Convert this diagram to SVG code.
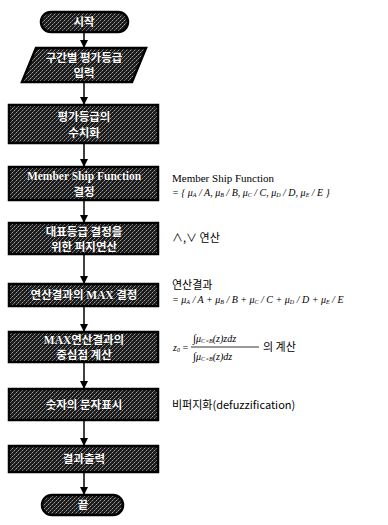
<svg xmlns="http://www.w3.org/2000/svg" width="388" height="525" viewBox="0 0 388 525">
<defs>
<pattern id="dt" width="4" height="4" patternUnits="userSpaceOnUse">
<rect width="4" height="4" fill="#1a1a1a"/>
<rect x="0" y="0" width="1" height="1" fill="#a0a0a0"/>
<rect x="2" y="2" width="1" height="1" fill="#a0a0a0"/>
<rect x="1" y="3" width="1" height="1" fill="#666"/>
<rect x="3" y="1" width="1" height="1" fill="#666"/>
</pattern>
<marker id="ah" markerWidth="8" markerHeight="8" refX="8" refY="4" orient="auto" markerUnits="userSpaceOnUse">
<path d="M0,0 L8,4 L0,8 z" fill="#000"/>
</marker>
<style>
.box{fill:url(#dt);stroke:#000;stroke-width:2.5}
.bt{fill:#fff;font-family:"Noto Sans CJK KR","Liberation Sans",sans-serif;font-weight:bold;font-size:11.5px;text-anchor:middle;stroke:#000;stroke-width:0.6;paint-order:stroke}
.bs{font-family:"Liberation Serif","Noto Sans CJK KR",serif}
.cn{stroke:#000;stroke-width:1.5;fill:none;marker-end:url(#ah)}
.rt{font-family:"Liberation Serif","Noto Sans CJK KR",serif;font-size:11px;fill:#000}
.rk{font-family:"Noto Sans CJK KR","Liberation Sans",sans-serif;font-size:11px;fill:#000}
.fm{font-family:"Liberation Serif",serif;font-style:italic;font-size:10px;fill:#000}
.sb{font-size:6px}
</style>
</defs>
<g id="connectors">
<line class="cn" x1="84" y1="32" x2="84" y2="48"/>
<line class="cn" x1="84" y1="82" x2="84" y2="105"/>
<line class="cn" x1="84" y1="143" x2="84" y2="167"/>
<line class="cn" x1="84" y1="200" x2="84" y2="223"/>
<line class="cn" x1="84" y1="254" x2="84" y2="284"/>
<line class="cn" x1="84" y1="306" x2="84" y2="332"/>
<line class="cn" x1="84" y1="362" x2="84" y2="389"/>
<line class="cn" x1="84" y1="420" x2="84" y2="446"/>
<line class="cn" x1="84" y1="472" x2="84" y2="495"/>
</g>
<g id="start">
<rect class="box" x="41" y="12" width="87" height="20" rx="10"/>
<text class="bt" x="84" y="26">시작</text>
</g>
<g id="input">
<polygon class="box" points="36,48 146,48 132,82 22,82"/>
<text class="bt" x="84" y="62">구간별 평가등급</text>
<text class="bt" x="84" y="77">입력</text>
</g>
<g id="quantify">
<rect class="box" x="9" y="105" width="149" height="38"/>
<text class="bt" x="84" y="121">평가등급의</text>
<text class="bt" x="84" y="137">수치화</text>
</g>
<g id="membership">
<rect class="box" x="9" y="167" width="149" height="33"/>
<text class="bt bs" x="84" y="180">Member Ship Function</text>
<text class="bt" x="84" y="196">결정</text>
</g>
<g id="fuzzyop">
<rect class="box" x="9" y="223" width="149" height="31"/>
<text class="bt" x="84" y="236">대표등급 결정을</text>
<text class="bt" x="84" y="251">위한 퍼지연산</text>
</g>
<g id="maxdecide">
<rect class="box" x="9" y="284" width="149" height="22"/>
<text class="bt" x="84" y="299">연산결과의 <tspan class="bs">MAX</tspan> 결정</text>
</g>
<g id="centroid">
<rect class="box" x="9" y="332" width="149" height="30"/>
<text class="bt" x="84" y="344"><tspan class="bs">MAX</tspan>연산결과의</text>
<text class="bt" x="84" y="359">중심점 계산</text>
</g>
<g id="display">
<rect class="box" x="9" y="389" width="149" height="31"/>
<text class="bt" x="84" y="409">숫자의 문자표시</text>
</g>
<g id="output">
<rect class="box" x="9" y="446" width="149" height="26"/>
<text class="bt" x="84" y="463">결과출력</text>
</g>
<g id="end">
<rect class="box" x="42" y="495" width="81" height="20" rx="10"/>
<text class="bt" x="83" y="509">끝</text>
</g>
<g id="notes">
<text class="rt" x="172" y="182">Member Ship Function</text>
<text class="fm" x="172" y="196">= { μ<tspan class="sb" dy="1">A</tspan><tspan dy="-1"> / A, μ</tspan><tspan class="sb" dy="1">B</tspan><tspan dy="-1"> / B, μ</tspan><tspan class="sb" dy="1">C</tspan><tspan dy="-1"> / C, μ</tspan><tspan class="sb" dy="1">D</tspan><tspan dy="-1"> / D, μ</tspan><tspan class="sb" dy="1">E</tspan><tspan dy="-1"> / E }</tspan></text>
<text class="rk" x="172" y="242">∧,∨ 연산</text>
<text class="rk" x="172" y="289">연산결과</text>
<text class="fm" x="172" y="303">= μ<tspan class="sb" dy="1">A</tspan><tspan dy="-1"> / A + μ</tspan><tspan class="sb" dy="1">B</tspan><tspan dy="-1"> / B + μ</tspan><tspan class="sb" dy="1">C</tspan><tspan dy="-1"> / C + μ</tspan><tspan class="sb" dy="1">D</tspan><tspan dy="-1"> / D + μ</tspan><tspan class="sb" dy="1">E</tspan><tspan dy="-1"> / E</tspan></text>
<text class="fm" x="173" y="351">z<tspan class="sb" dy="1">0</tspan><tspan dy="-1" font-style="normal"> =</tspan></text>
<text class="fm" x="193" y="342"><tspan font-style="normal" font-size="11px">∫</tspan>μ<tspan class="sb" dy="1">C∘B</tspan><tspan dy="-1">(z)zdz</tspan></text>
<line x1="191" y1="347" x2="259" y2="347" stroke="#000" stroke-width="0.8"/>
<text class="fm" x="193" y="360"><tspan font-style="normal" font-size="11px">∫</tspan>μ<tspan class="sb" dy="1">C∘B</tspan><tspan dy="-1">(z)dz</tspan></text>
<text class="rk" x="263" y="351">의 계산</text>
<text class="rk" x="172" y="409">비퍼지화(defuzzification)</text>
</g>
</svg>
